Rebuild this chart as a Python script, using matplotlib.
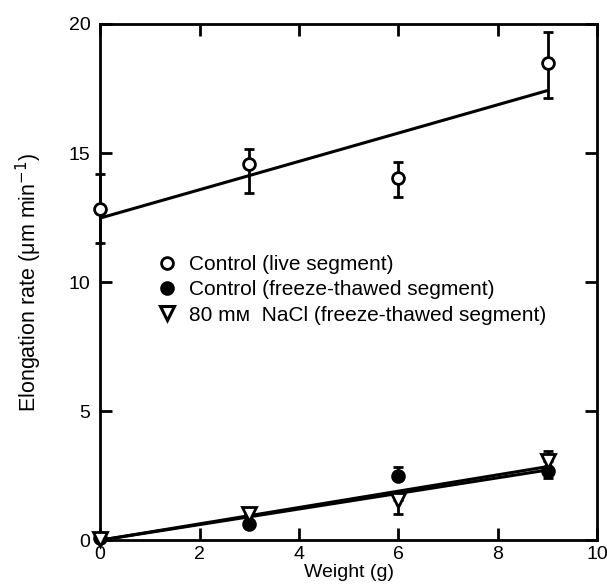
import matplotlib
matplotlib.use("Agg")
import matplotlib.pyplot as plt
from matplotlib.lines import Line2D

plt.rcParams['font.family'] = ['Liberation Sans', 'DejaVu Sans']

weight = [0, 3, 6, 9]

live = [12.85, 14.57, 14.04, 18.49]
live_err_lo = [1.35, 1.11, 0.73, 1.37]
live_err_hi = [1.35, 0.57, 0.63, 1.19]
live_fit = [12.48, 17.42]

ft = [0.08, 0.63, 2.49, 2.70]
ft_err_lo = [0.0, 0.0, 0.0, 0.30]
ft_err_hi = [0.0, 0.0, 0.33, 0.0]
ft_fit = [0.0, 2.72]

nacl = [0.05, 1.01, 1.54, 3.05]
nacl_err_lo = [0.0, 0.0, 0.53, 0.0]
nacl_err_hi = [0.0, 0.0, 0.0, 0.42]
nacl_fit = [0.0, 2.85]

fit_x = [0, 9]

labels = ["Control (live segment)",
          "Control (freeze-thawed segment)",
          "80 m\u1d0d  NaCl (freeze-thawed segment)"]

fig = plt.figure(figsize=(6.07, 5.84), dpi=100)
ax = fig.add_axes([0.165, 0.075, 0.819, 0.884])

lw = 2.2
ax.plot(fit_x, live_fit, color='black', lw=lw, zorder=2)
ax.plot(fit_x, ft_fit, color='black', lw=lw, zorder=2)
ax.plot(fit_x, nacl_fit, color='black', lw=lw, zorder=2)

ms = 8.5
cs = 3.8
ax.errorbar(weight, live, yerr=[live_err_lo, live_err_hi], fmt='o', mfc='white', mec='black',
            mew=2, ms=ms, ecolor='black', elinewidth=2, capsize=cs, capthick=2,
            zorder=3, clip_on=False)
ax.errorbar(weight, ft, yerr=[ft_err_lo, ft_err_hi], fmt='o', mfc='black', mec='black',
            mew=2, ms=ms, ecolor='black', elinewidth=2, capsize=cs, capthick=2,
            zorder=3, clip_on=False)
ax.errorbar(weight, nacl, yerr=[nacl_err_lo, nacl_err_hi], fmt='v', mfc='white', mec='black',
            mew=2, ms=ms + 1, ecolor='black', elinewidth=2, capsize=cs, capthick=2,
            zorder=3, clip_on=False)

ax.set_xlim(0, 10)
ax.set_ylim(0, 20)
ax.set_xticks([0, 2, 4, 6, 8, 10])
ax.set_yticks([0, 5, 10, 15, 20])
ax.tick_params(direction='in', length=8.5, width=2, top=True, right=True, labelsize=14, pad=4)
ax.tick_params(axis='y', pad=7)
for s in ax.spines.values():
    s.set_linewidth(2)

ax.set_xlabel("Weight (g)", fontsize=14, labelpad=1)
ax.set_ylabel("Elongation rate (\u03bcm min$^{-1}$)", fontsize=15.5, labelpad=18)

handles = [
    Line2D([], [], ls='none', marker='o', mfc='white', mec='black', mew=2, ms=8.5),
    Line2D([], [], ls='none', marker='o', mfc='black', mec='black', mew=2, ms=8.5),
    Line2D([], [], ls='none', marker='v', mfc='white', mec='black', mew=2.2, ms=9.5),
]
leg = ax.legend(handles, labels, loc='upper left', bbox_to_anchor=(0.114, 0.552), frameon=False,
                fontsize=15, handletextpad=0.55, labelspacing=0.3, handlelength=1.0,
                borderaxespad=0, borderpad=0)

fig.savefig("out.png", dpi=100)
